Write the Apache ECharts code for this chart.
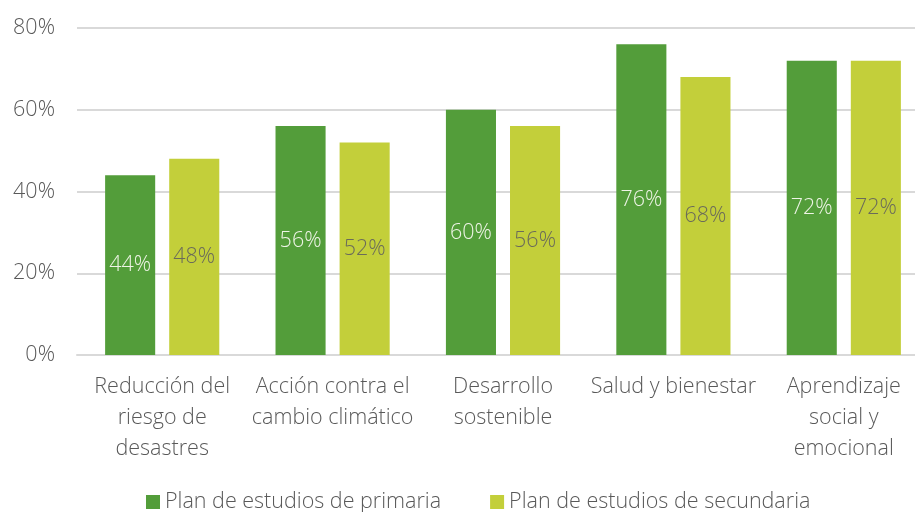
<!DOCTYPE html>
<html>
<head>
<meta charset="utf-8">
<script src="https://cdn.jsdelivr.net/npm/echarts@6/dist/echarts.min.js"></script>
<style>
  html, body { margin: 0; padding: 0; background: #ffffff; overflow: hidden; }
  #chart { width: 915px; height: 512px; }
</style>
</head>
<body>
<div id="chart"></div>
<script>
// Temas del plan de estudios
const categories = [
  'Reducción del\nriesgo de\ndesastres',
  'Acción contra el\ncambio climático',
  'Desarrollo\nsostenible',
  'Salud y bienestar',
  'Aprendizaje\nsocial y\nemocional'
];
const seriesNames = ['Plan de estudios de primaria', 'Plan de estudios de secundaria'];
const primaria = [44, 56, 60, 76, 72];
const secundaria = [48, 52, 56, 68, 72];
const yTicks = [0, 20, 40, 60, 80];

const FONT = '"Open Sans", "Noto Sans", sans-serif';
const TEXT = '#595959';
const chart = echarts.init(document.getElementById('chart'));

chart.setOption({
  animation: false,
  textStyle: { fontFamily: FONT },
  // the plot area runs slightly past the right edge, so the last gridline is clipped
  grid: {
    left: 77, width: 852, top: 28, bottom: 157,
    containLabel: false,
    outerBoundsMode: 'none'
  },
  legend: {
    top: 486,
    left: 141,
    itemWidth: 14,
    itemHeight: 14,
    itemGap: 49,
    icon: 'rect',
    textStyle: { fontFamily: FONT, fontWeight: 300, fontSize: 21.5, color: TEXT },
    data: seriesNames
  },
  xAxis: {
    type: 'category',
    data: categories,
    axisLine: { show: true, lineStyle: { color: '#d9d9d9', width: 2 } },
    axisTick: { show: false },
    axisLabel: {
      interval: 0,
      margin: 16,
      fontFamily: FONT,
      fontWeight: 300,
      fontSize: 21.5,
      lineHeight: 31,
      color: TEXT
    }
  },
  yAxis: {
    type: 'value',
    min: yTicks[0],
    max: yTicks[yTicks.length - 1],
    interval: 20,
    axisLine: { show: false },
    axisTick: { show: false },
    splitLine: { lineStyle: { color: '#d9d9d9', width: 2 } },
    axisLabel: {
      margin: 22,
      fontFamily: FONT,
      fontWeight: 300,
      fontSize: 21.5,
      color: TEXT,
      formatter: '{value}%'
    }
  },
  series: [
    {
      name: seriesNames[0],
      type: 'bar',
      data: primaria,
      barGap: '28%',
      barCategoryGap: '33%',
      itemStyle: { color: '#539d3a' },
      label: {
        show: true,
        position: 'inside',
        formatter: '{c}%',
        fontFamily: FONT,
        fontWeight: 300,
        fontSize: 21.5,
        color: '#eef4e6'
      }
    },
    {
      name: seriesNames[1],
      type: 'bar',
      data: secundaria,
      itemStyle: { color: '#c3cf3a' },
      label: {
        show: true,
        position: 'inside',
        formatter: '{c}%',
        fontFamily: FONT,
        fontWeight: 300,
        fontSize: 21.5,
        color: '#6b6b5a'
      }
    }
  ]
});
</script>
</body>
</html>
